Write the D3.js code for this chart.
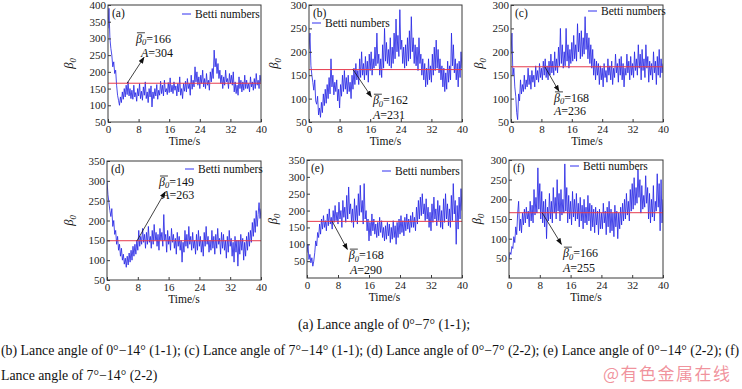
<!DOCTYPE html>
<html>
<head>
<meta charset="utf-8">
<script src="https://cdn.jsdelivr.net/npm/d3@7"></script>
<style>
  body { margin: 0; background: #fff; }
  svg { display: block; }
  .frame { fill: none; stroke: #3a3a3a; stroke-width: 1; }
  .tick line { stroke: #3a3a3a; }
  .tick text { fill: #222; }
  .betti { fill: none; stroke: #2424e4; stroke-width: 1; stroke-opacity: 0.82; stroke-linejoin: round; }
  .mean { stroke: #e63a4c; stroke-width: 1; }
  .lbl { fill: #111; }
  .caption { fill: #111; }
</style>
</head>
<body>
<svg id="chart" width="742" height="389"></svg>
<script>
  // sampling: one value every 0.25 s, 0..40 s
  const sampleStep = 0.25;
  const xTicks = [0, 8, 16, 24, 32, 40];
  const panelKeys = ["a", "b", "c", "d", "e", "f"];
  const meanValues = [166, 162, 168, 149, 168, 166];
  const amplitudeValues = [304, 231, 236, 263, 290, 255];
  const legendLabel = "Betti numbers";

  const yTicksA = [50, 100, 150, 200, 250, 300, 350, 400];
  const yTicksB = [50, 100, 150, 200, 250, 300];
  const yTicksC = [50, 100, 150, 200, 250, 300];
  const yTicksD = [50, 100, 150, 200, 250, 300, 350];
  const yTicksE = [50, 100, 150, 200, 250, 300, 350];
  const yTicksF = [50, 100, 150, 200, 250, 300];

  const seriesA = [330,390,300,270,250, 215,230,195,205, 160,130,115,100, 125,108,140,118, 150,125,160,132,
    170,128,150,120, 145,118,160,125, 138,112,150,128, 165,120,142,115, 155,130,170,120, 140,108,150,125,
    158,95,140,120, 150,128,162,118, 145,130,172,135, 160,128,175,140, 150,132,168,138, 182,140,160,135,
    170,145,158,128, 165,140,185,130, 150,120,165,142, 172,140,180,150, 165,130,190,148, 175,155,215,170,
    200,160,185,150, 190,165,205,155, 180,150,195,160, 175,145,200,170, 210,180,265,215, 240,195,225,180,
    205,165,190,150, 185,160,205,170, 180,150,195,165, 190,160,200,140, 170,135,160,130, 185,150,175,140,
    170,145,190,150, 175,150,165,140, 185,155,170,145, 180,150,195,160, 175,150,190,165];

  const seriesB = [205,240,170,150,135, 118,140,95,88, 105,65,80,60, 92,70,110,85, 120,90,130,100,
    145,110,185,125, 150,108,135,115, 140,95,120,80, 130,105,150,115, 160,120,145,110, 150,115,135,100,
    150,120,165,130, 175,140,160,130, 185,145,200,150, 175,140,190,150, 180,135,195,160, 200,150,185,165,
    210,170,240,175, 195,150,185,145, 215,165,250,180, 220,175,205,170, 230,165,210,175, 240,185,270,200,
    235,190,290,205, 225,175,210,165, 215,170,230,180, 245,185,275,200, 230,175,215,170, 210,160,230,175,
    195,150,185,140, 175,125,165,130, 185,140,170,135, 195,150,210,160, 225,165,205,155, 185,140,170,125,
    165,115,155,120, 180,135,170,140, 240,170,215,155, 185,140,175,125, 180,145,200,165];

  const seriesC = [195,240,150,165,125, 105,70,55,110, 95,140,110,130, 115,150,120,140, 125,165,130,150,
    120,160,135,150, 125,170,140,160, 135,175,145,165, 140,180,150,185, 145,170,140,180, 150,195,155,180,
    150,200,160,185, 155,210,170,250, 175,215,165,200, 170,250,180,215, 165,205,175,220, 180,235,185,215,
    180,260,200,240, 185,245,190,230, 195,275,205,240, 185,230,175,215, 165,205,150,185, 140,180,150,175,
    130,170,140,165, 125,175,145,160, 135,185,150,170, 140,180,130,165, 145,195,155,175, 135,185,150,190,
    140,175,125,165, 150,195,155,180, 140,190,150,175, 145,200,160,185, 150,215,165,195, 140,205,160,185,
    145,215,165,190, 135,180,150,175, 140,200,155,180, 130,190,150,205, 145,185,155,175];

  const seriesD = [300,265,245,225,210, 230,185,200,165, 175,140,160,125, 140,110,130,100, 115,90,105,82,
    110,88,118,95, 125,100,135,110, 140,115,150,125, 175,135,160,140, 180,145,165,130, 170,140,185,145,
    160,130,175,140, 190,150,170,135, 165,125,180,150, 170,135,215,150, 165,120,175,140, 160,125,180,145,
    165,130,155,115, 170,135,160,125, 150,95,145,120, 175,135,165,130, 185,140,160,125, 170,130,150,115,
    165,125,175,135, 160,120,150,110, 170,135,185,140, 160,120,150,125, 175,130,160,115, 165,130,180,140,
    155,115,170,130, 165,125,150,105, 160,120,175,135, 155,110,145,95, 160,120,150,85, 150,115,165,125,
    155,100,145,110, 160,125,170,135, 175,145,195,160, 205,170,225,185, 215,245,205,230];

  const seriesE = [75,100,55,70,45, 60,35,50,75, 110,95,135,120, 160,130,175,145, 185,150,170,140,
    190,155,205,160, 180,145,200,165, 215,170,195,160, 225,175,200,150, 230,180,210,165, 245,175,270,190,
    220,165,205,150, 235,170,215,160, 250,185,275,195, 230,160,280,175, 200,140,175,110, 165,125,190,140,
    175,130,160,120, 165,125,180,135, 170,120,150,110, 155,115,165,125, 160,105,150,115, 170,120,155,100,
    165,120,175,130, 185,135,170,125, 180,140,190,145, 175,135,185,150, 195,150,180,140, 210,160,230,175,
    240,185,250,190, 220,170,235,175, 210,150,195,140, 220,165,240,175, 205,155,230,170, 215,150,200,145,
    235,165,250,175, 220,155,205,150, 245,170,280,190, 230,100,215,145, 240,175,265,200];

  const seriesF = [50,65,60,80,75, 105,90,130,110, 165,195,120,150, 115,165,135,175, 140,180,150,170,
    130,195,145,185, 140,225,160,205, 165,280,175,240, 150,220,140,195, 130,200,100,180, 145,215,150,195,
    140,230,165,205, 150,250,170,215, 145,225,160,200, 165,290,170,230, 140,210,150,195, 135,220,155,200,
    145,215,150,190, 130,205,145,185, 125,200,140,180, 135,210,145,190, 120,185,130,175, 115,180,135,170,
    110,175,125,165, 125,190,140,170, 110,180,130,195, 115,175,120,165, 105,185,130,170, 100,165,125,180,
    135,190,145,200, 150,215,160,195, 145,225,170,240, 175,255,185,230, 190,275,205,250, 165,235,175,210,
    180,260,190,230, 150,215,140,200, 155,235,145,195, 170,265,180,240, 120,250,140,200];

  const seriesList = [seriesA, seriesB, seriesC, seriesD, seriesE, seriesF];
  const yTickList = [yTicksA, yTicksB, yTicksC, yTicksD, yTicksE, yTicksF];
  const yDomains = [[50, 400], [50, 300], [50, 300], [50, 350], [0, 350], [0, 300]];

  const captionLines = [
    "(a) Lance angle of 0°−7° (1-1);",
    "(b) Lance angle of 0°−14° (1-1); (c) Lance angle of 7°−14° (1-1); (d) Lance angle of 0°−7° (2-2); (e) Lance angle of 0°−14° (2-2); (f)",
    "Lance angle of 7°−14° (2-2)"
  ];
  const watermark = "@有色金属在线";

  const serif = "'Liberation Serif', 'Times New Roman', Times, serif";

  // layout: plot boxes and where labels sit
  const boxes = [
    { l: 108, t: 5, r: 261, b: 122, ylab: -35 },
    { l: 309, t: 5, r: 462, b: 122, ylab: -31 },
    { l: 511, t: 5, r: 663, b: 122, ylab: -28 },
    { l: 107, t: 161, r: 261, b: 280, ylab: -34 },
    { l: 307, t: 160, r: 462, b: 278, ylab: -30 },
    { l: 509, t: 160, r: 663, b: 278, ylab: -28 }
  ];
  const legendPos = [[74, 9], [3, 18], [77, 6], [78, 8], [75, 11], [61, 6]];
  // arrow from/to and text anchors, in data units [t, value]
  const notes = [
    { from: [5.0, 166], to: [9.4, 243], beta: [7.3, 287], amp: [8.6, 246] },
    { from: [11.5, 162], to: [16.3, 104], beta: [16.7, 88], amp: [16.7, 59] },
    { from: [8.9, 168], to: [12.6, 116], beta: [11.3, 93], amp: [11.3, 67] },
    { from: [7.8, 149], to: [15.1, 272], beta: [13.5, 287], amp: [14.3, 257] },
    { from: [6.5, 168], to: [10.4, 85], beta: [10.8, 56], amp: [11.1, 15] },
    { from: [8.6, 166], to: [13.6, 86], beta: [14.0, 53], amp: [14.0, 18] }
  ];

  const svg = d3.select("#chart").style("font-family", serif);

  svg.append("defs").append("marker")
    .attr("id", "arrow")
    .attr("viewBox", "0 0 8 6")
    .attr("refX", 7).attr("refY", 3)
    .attr("markerWidth", 7).attr("markerHeight", 5)
    .attr("markerUnits", "userSpaceOnUse")
    .attr("orient", "auto")
    .append("path")
    .attr("d", "M0,0L8,3L0,6z")
    .attr("fill", "#111");

  function plainAxis(s) {
    s.attr("font-family", null).attr("font-size", null);
    s.select(".domain").remove();
    s.selectAll(".tick text").style("font-family", serif).style("font-size", "11px");
  }

  panelKeys.forEach(function(key, i) {
    let box = boxes[i];
    let data = seriesList[i];

    let x = d3.scaleLinear().domain([0, 40]).range([box.l, box.r]);
    let y = d3.scaleLinear().domain(yDomains[i]).range([box.b, box.t]);

    let g = svg.append("g").attr("class", "panel-" + key);

    // clip so spikes stay inside the frame
    g.append("clipPath").attr("id", "clip-" + key)
      .append("rect")
      .attr("x", box.l).attr("y", box.t)
      .attr("width", box.r - box.l).attr("height", box.b - box.t);

    let line = d3.line()
      .x(function(d, j) { return x(j * sampleStep); })
      .y(function(d) { return y(d); });

    g.append("path")
      .datum(data)
      .attr("class", "betti")
      .attr("clip-path", "url(#clip-" + key + ")")
      .attr("d", line);

    // mean value line
    g.append("line")
      .attr("class", "mean")
      .attr("x1", x(0)).attr("x2", x(40))
      .attr("y1", y(meanValues[i])).attr("y2", y(meanValues[i]));

    // axes
    let xAxis = d3.axisBottom(x).tickValues(xTicks).tickSize(-3).tickPadding(3);
    let yAxis = d3.axisLeft(y).tickValues(yTickList[i]).tickSize(-3).tickPadding(2);

    g.append("g")
      .attr("transform", "translate(0," + box.b + ")")
      .call(xAxis)
      .call(plainAxis);

    g.append("g")
      .attr("transform", "translate(" + box.l + ",0)")
      .call(yAxis)
      .call(plainAxis);

    g.append("rect")
      .attr("class", "frame")
      .attr("x", box.l).attr("y", box.t)
      .attr("width", box.r - box.l).attr("height", box.b - box.t);

    // axis titles
    g.append("text")
      .attr("class", "lbl")
      .attr("x", (box.l + box.r) / 2)
      .attr("y", box.b + 23)
      .attr("text-anchor", "middle")
      .style("font-size", "11.5px")
      .text("Time/s");

    let yl = g.append("text")
      .attr("class", "lbl")
      .attr("transform", "translate(" + (box.l + box.ylab) + "," + ((box.t + box.b) / 2) + ") rotate(-90)")
      .attr("text-anchor", "middle")
      .style("font-size", "12.5px")
      .style("font-style", "italic");
    yl.append("tspan").text("β");
    yl.append("tspan").style("font-size", "8.5px").attr("dy", 3).text("0");

    // panel tag
    g.append("text")
      .attr("class", "lbl")
      .attr("x", box.l + 4)
      .attr("y", box.t + 12)
      .style("font-size", "11.5px")
      .text("(" + key + ")");

    // legend
    let lp = legendPos[i];
    g.append("line")
      .attr("x1", box.l + lp[0]).attr("x2", box.l + lp[0] + 9)
      .attr("y1", box.t + lp[1]).attr("y2", box.t + lp[1])
      .attr("stroke", "#3030f0").attr("stroke-width", 1);
    g.append("text")
      .attr("class", "lbl")
      .attr("x", box.l + lp[0] + 13)
      .attr("y", box.t + lp[1] + 4)
      .style("font-size", "11.5px")
      .text(legendLabel);

    // annotation
    let n = notes[i];
    g.append("line")
      .attr("x1", x(n.from[0])).attr("y1", y(n.from[1]))
      .attr("x2", x(n.to[0])).attr("y2", y(n.to[1]))
      .attr("stroke", "#111").attr("stroke-width", 0.8)
      .attr("marker-end", "url(#arrow)");

    let bx = x(n.beta[0]), by = y(n.beta[1]);
    let bt = g.append("text")
      .attr("class", "lbl")
      .attr("x", bx).attr("y", by)
      .style("font-size", "12px");
    bt.append("tspan").style("font-style", "italic").text("β");
    bt.append("tspan").style("font-style", "italic").style("font-size", "8.5px").attr("dy", 2.5).text("0");
    bt.append("tspan").attr("dy", -2.5).text("=" + meanValues[i]);
    // bar over beta
    g.append("line")
      .attr("x1", bx + 1).attr("x2", bx + 9)
      .attr("y1", by - 10).attr("y2", by - 10)
      .attr("stroke", "#111").attr("stroke-width", 0.8);

    let at = g.append("text")
      .attr("class", "lbl")
      .attr("x", x(n.amp[0])).attr("y", y(n.amp[1]) + 1)
      .style("font-size", "12px");
    at.append("tspan").style("font-style", "italic").text("A");
    at.append("tspan").text("=" + amplitudeValues[i]);
  });

  // figure caption, sized so the long line fills the width
  let capSize = 13;
  let probe = svg.append("text").style("font-size", capSize + "px").text(captionLines[1]);
  let w = probe.node().getComputedTextLength();
  probe.remove();
  if (w > 0) capSize = capSize * 739 / w;

  svg.append("text").attr("class", "caption")
    .attr("x", 384).attr("y", 329).attr("text-anchor", "middle")
    .style("font-size", capSize + "px")
    .text(captionLines[0]);
  svg.append("text").attr("class", "caption")
    .attr("x", 1).attr("y", 355)
    .style("font-size", capSize + "px")
    .text(captionLines[1]);
  svg.append("text").attr("class", "caption")
    .attr("x", 1).attr("y", 380)
    .style("font-size", capSize + "px")
    .text(captionLines[2]);

  svg.append("text")
    .attr("x", 603).attr("y", 380)
    .style("font-family", "'Noto Sans CJK SC', sans-serif")
    .style("font-size", "17px")
    .attr("letter-spacing", "1.5px")
    .attr("fill", "#ee7f8c")
    .attr("fill-opacity", 0.85)
    .text(watermark);
</script>
</body>
</html>
